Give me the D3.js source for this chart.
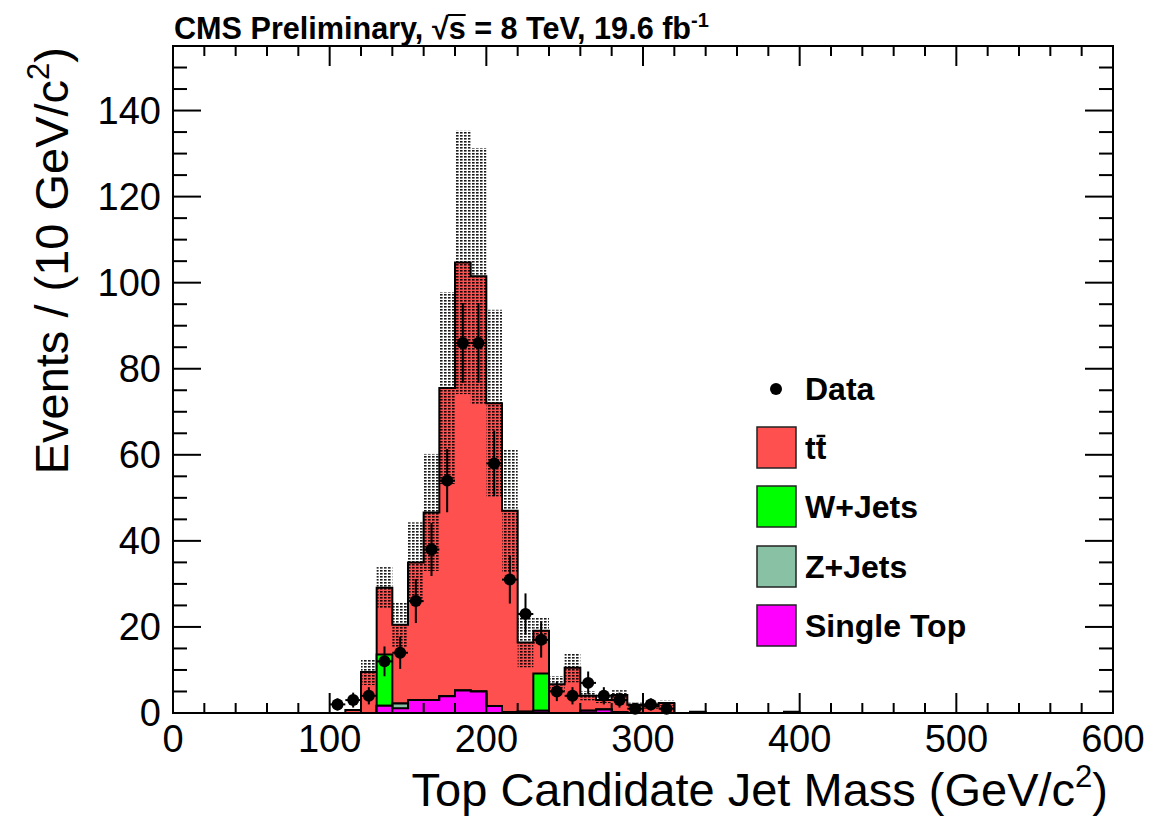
<!DOCTYPE html>
<html>
<head>
<meta charset="utf-8">
<script src="https://cdn.jsdelivr.net/npm/d3@7"></script>
<style>
  html, body { margin: 0; padding: 0; background: #fff; }
  svg { display: block; }
  text { font-family: "Liberation Sans", Arial, Helvetica, sans-serif; fill: #000; }
</style>
</head>
<body>
<svg id="chart" width="1174" height="818"></svg>
<script>
// Bin lower edges (10 GeV/c^2 wide bins)
const binLow = [100,110,120,130,140,150,160,170,180,190,200,210,220,230,240,250,260,270,280,290,300,310,320,330,340,350,360,370,380,390];
const binWidth = 10;

// Stacked backgrounds, events per bin
const ttbar     = [0,0.7,9.5,15.5,18.3,32.0,43.6,71.6,99.5,96.5,70.4,46.8,16.1,9.9,6.7,10.5,3.5,2.2,4.0,1.9,1.5,2.3,0,0.3,0,0,0,0,0,0.3];
const wjets     = [0,0,0,11.9,0,0,0,0,0,0,0,0,0,8.7,0,0,0,0,0,0,0,0,0,0,0,0,0,0,0,0];
const zjets     = [0,0,0,0,1.1,0,0,0,0,0,0,0,0,0,0,0,0,0,0,0,0,0,0,0,0,0,0,0,0,0];
const singleTop = [0,0,0,1.7,1.1,3.0,3.0,3.9,5.2,5.0,1.6,0.2,0.3,0.5,0,0,0.5,0.8,0.2,0,0,0,0,0,0,0,0,0,0,0];

// Uncertainty on the total prediction (half width of the dotted band)
const bandErr   = [0,0.2,3.0,4.8,5.2,9.3,13.6,22.3,30.6,29.8,21.7,14.3,5.8,3.2,1.9,3.4,1.1,0.7,1.1,0.5,0.5,0.6,0,0.1,0,0,0,0,0,0.1];

// Observed events
const data      = [2,3,4,12,14,26,38,54,86,86,58,31,23,17,5,4,7,4,3,1,2,1,0,0,0,0,0,0,0,0];

// Axis ticks
const xTickLabels = [0,100,200,300,400,500,600];
const yTickLabels = [0,20,40,60,80,100,120,140];

// Legend entries (drawn top to bottom)
const legendNames  = ["tt", "W+Jets", "Z+Jets", "Single Top"];
const legendColors = ["#ff5050", "#00ff00", "#88c1a4", "#ff00ff"];

const FONT_TICK = 38, FONT_TITLE = 47, FONT_HEAD = 30.6, FONT_LEG = 32;

const svg = d3.select("#chart");
const frame = {left: 173, top: 46, right: 1113, bottom: 713};

const x = d3.scaleLinear().domain([0, 600]).range([frame.left, frame.right]);
const y = d3.scaleLinear().domain([0, 155]).range([frame.bottom, frame.top]);

// dotted uncertainty pattern
const defs = svg.append("defs");
const pat = defs.append("pattern")
  .attr("id", "unc").attr("patternUnits", "userSpaceOnUse")
  .attr("width", 4).attr("height", 3);
pat.append("rect").attr("x", 0).attr("y", 0).attr("width", 2.6).attr("height", 1.6)
  .attr("fill", "#000").attr("fill-opacity", 0.9);

svg.append("rect").attr("x", 0).attr("y", 0).attr("width", 1174).attr("height", 818).attr("fill", "#fff");

// cumulative stacks, from the full sum down to the bottom component
const comps = [singleTop, zjets, wjets, ttbar];
const cum = [];
let running = binLow.map(() => 0);
comps.forEach(c => { running = running.map((v, i) => v + c[i]); cum.push(running.slice()); });
const layerColors = ["#ff00ff", "#88c1a4", "#00ff00", "#ff5050"];

function stepPath(vals) {
  const p = d3.path();
  const x0 = binLow[0], x1 = binLow[binLow.length - 1] + binWidth;
  p.moveTo(x(x0), y(0));
  binLow.forEach((lo, i) => {
    p.lineTo(x(lo), y(vals[i]));
    p.lineTo(x(lo + binWidth), y(vals[i]));
  });
  p.lineTo(x(x1), y(0));
  return p.toString();
}

const plot = svg.append("g");
for (let k = cum.length - 1; k >= 0; k--) {
  plot.append("path").attr("d", stepPath(cum[k]) + "Z")
    .attr("fill", layerColors[k]).attr("stroke", "none");
  plot.append("path").attr("d", stepPath(cum[k]))
    .attr("fill", "none").attr("stroke", "#000").attr("stroke-width", 2)
    .attr("stroke-linejoin", "miter");
}

// uncertainty band
const total = cum[cum.length - 1];
plot.selectAll("rect.band").data(binLow.map((lo, i) => ({lo, v: total[i], e: bandErr[i]})).filter(d => d.e > 0))
  .join("rect").attr("class", "band")
  .attr("x", d => x(d.lo)).attr("width", d => x(d.lo + binWidth) - x(d.lo))
  .attr("y", d => y(d.v + d.e)).attr("height", d => y(d.v - d.e) - y(d.v + d.e))
  .attr("fill", "url(#unc)");

// data points with Poisson errors
const pts = binLow.map((lo, i) => ({c: lo + binWidth / 2, lo, n: data[i]})).filter(d => d.n > 0);
const dg = plot.append("g");
dg.selectAll("line.ev").data(pts).join("line")
  .attr("x1", d => x(d.c)).attr("x2", d => x(d.c))
  .attr("y1", d => y(d.n + Math.sqrt(d.n))).attr("y2", d => y(d.n - Math.sqrt(d.n)))
  .attr("stroke", "#000").attr("stroke-width", 2);
dg.selectAll("line.eh").data(pts).join("line")
  .attr("x1", d => x(d.lo)).attr("x2", d => x(d.lo + binWidth))
  .attr("y1", d => y(d.n)).attr("y2", d => y(d.n))
  .attr("stroke", "#000").attr("stroke-width", 2);
dg.selectAll("circle").data(pts).join("circle")
  .attr("cx", d => x(d.c)).attr("cy", d => y(d.n)).attr("r", 6).attr("fill", "#000");

// frame and ticks
const ax = svg.append("g");
ax.append("rect").attr("x", frame.left).attr("y", frame.top)
  .attr("width", frame.right - frame.left).attr("height", frame.bottom - frame.top)
  .attr("fill", "none").attr("stroke", "#000").attr("stroke-width", 2);

const xMinor = d3.range(0, 601, 20);
xMinor.forEach(v => {
  const len = v % 100 === 0 ? 20 : 10;
  ax.append("line").attr("x1", x(v)).attr("x2", x(v)).attr("y1", frame.bottom).attr("y2", frame.bottom - len)
    .attr("stroke", "#000").attr("stroke-width", 2);
  ax.append("line").attr("x1", x(v)).attr("x2", x(v)).attr("y1", frame.top).attr("y2", frame.top + len)
    .attr("stroke", "#000").attr("stroke-width", 2);
});
const yMinor = d3.range(0, 156, 5);
yMinor.forEach(v => {
  const len = v % 20 === 0 ? 28 : 14;
  ax.append("line").attr("y1", y(v)).attr("y2", y(v)).attr("x1", frame.left).attr("x2", frame.left + len)
    .attr("stroke", "#000").attr("stroke-width", 2);
  ax.append("line").attr("y1", y(v)).attr("y2", y(v)).attr("x1", frame.right).attr("x2", frame.right - len)
    .attr("stroke", "#000").attr("stroke-width", 2);
});

ax.selectAll("text.xt").data(xTickLabels).join("text").attr("class", "xt")
  .attr("x", d => x(d)).attr("y", 752).attr("text-anchor", "middle")
  .attr("font-size", FONT_TICK).text(d => d);
ax.selectAll("text.yt").data(yTickLabels).join("text").attr("class", "yt")
  .attr("x", 161).attr("y", d => y(d) + 13).attr("text-anchor", "end")
  .attr("font-size", FONT_TICK).text(d => d);

// axis titles
const xt = svg.append("text").attr("x", 1108).attr("y", 806).attr("text-anchor", "end").attr("font-size", FONT_TITLE);
xt.append("tspan").text("Top Candidate Jet Mass (GeV/c");
xt.append("tspan").attr("font-size", 31).attr("dy", -19).text("2");
xt.append("tspan").attr("dy", 19).text(")");

const yt = svg.append("text").attr("transform", "translate(68,47) rotate(-90)")
  .attr("text-anchor", "end").attr("font-size", FONT_TITLE);
yt.append("tspan").text("Events / (10 GeV/c");
yt.append("tspan").attr("font-size", 31).attr("dy", -19).text("2");
yt.append("tspan").attr("dy", 19).text(")");

// header
const title = svg.append("text").attr("x", 174).attr("y", 39)
  .attr("font-size", FONT_HEAD).attr("font-weight", "bold");
title.append("tspan").text("CMS Preliminary, ");
title.append("tspan").text("\u221As");
title.append("tspan").text(" = 8 TeV, 19.6 fb");
title.append("tspan").attr("font-size", 20).attr("dy", -12).text("-1");
{
  const tNode = title.node();
  const idx = "CMS Preliminary, \u221A".length;
  const ext = tNode.getExtentOfChar(idx);
  const rext = tNode.getExtentOfChar(idx - 1);
  svg.append("line").attr("x1", rext.x + rext.width - 1).attr("x2", ext.x + ext.width)
    .attr("y1", ext.y + 4).attr("y2", ext.y + 4).attr("stroke", "#000").attr("stroke-width", 2);
}

// legend
const lg = svg.append("g");
lg.append("circle").attr("cx", 776).attr("cy", 389).attr("r", 6).attr("fill", "#000");
lg.append("text").attr("x", 805).attr("y", 400).attr("font-size", FONT_LEG).attr("font-weight", "bold").text("Data");
const rowY = [447, 506, 566, 625];
legendNames.forEach((name, i) => {
  lg.append("rect").attr("x", 757).attr("y", rowY[i] - 20).attr("width", 39).attr("height", 41)
    .attr("fill", legendColors[i]).attr("stroke", "#222").attr("stroke-width", 1.5);
  const t = lg.append("text").attr("x", 805).attr("y", rowY[i] + 12).attr("font-size", FONT_LEG)
    .attr("font-weight", "bold").text(name);
  if (i === 0) {
    const e = t.node().getExtentOfChar(1);
    lg.append("line").attr("x1", e.x + 1).attr("x2", e.x + e.width - 1)
      .attr("y1", e.y + 6).attr("y2", e.y + 6).attr("stroke", "#000").attr("stroke-width", 2.5);
  }
});
</script>
</body>
</html>
